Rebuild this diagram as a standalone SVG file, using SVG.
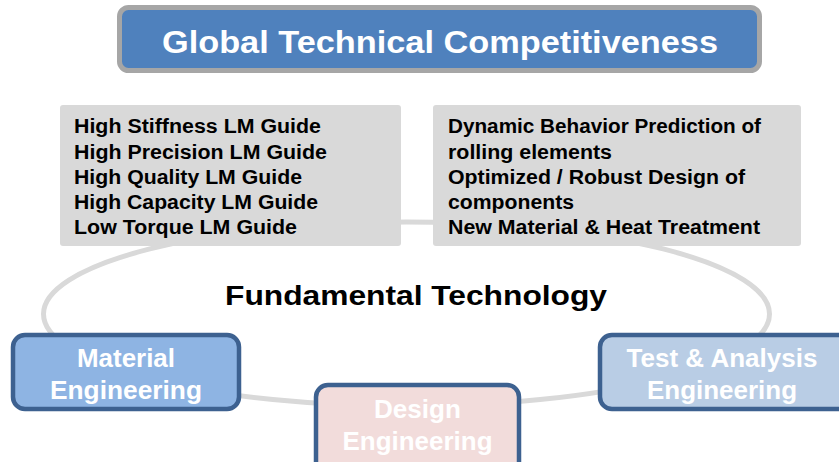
<svg xmlns="http://www.w3.org/2000/svg" width="839" height="462" viewBox="0 0 839 462">
  <style>
    .bold { font-family: "Liberation Sans", Arial, sans-serif; font-weight: bold; }
    .list { font-size: 19.5px; fill: #000; }
    .panel { fill: #d9d9d9; }
    .tech { stroke: #3d6190; stroke-width: 4.5; }
    .techLabel { font-size: 25px; fill: #fff; text-anchor: middle; }
  </style>

  <!-- ring of fundamental technology -->
  <g id="connectors">
    <ellipse cx="406.5" cy="314" rx="363" ry="92" fill="none" stroke="#d9d9d9" stroke-width="5"/>
  </g>

  <g id="global">
    <rect x="119.5" y="7.5" width="640" height="63" rx="9" fill="#4f81bd" stroke="#a6a6a6" stroke-width="5"/>
    <text class="bold" x="440" y="53" font-size="32" fill="#fff" text-anchor="middle" textLength="556" lengthAdjust="spacingAndGlyphs">Global Technical Competitiveness</text>
  </g>

  <g id="products">
    <rect class="panel" x="60" y="105" width="341" height="141" rx="3"/>
    <text class="bold list" x="74" y="133" textLength="247" lengthAdjust="spacingAndGlyphs">High Stiffness LM Guide</text>
    <text class="bold list" x="74" y="158.5" textLength="253" lengthAdjust="spacingAndGlyphs">High Precision LM Guide</text>
    <text class="bold list" x="74" y="183.5" textLength="228" lengthAdjust="spacingAndGlyphs">High Quality LM Guide</text>
    <text class="bold list" x="74" y="208.5" textLength="244" lengthAdjust="spacingAndGlyphs">High Capacity LM Guide</text>
    <text class="bold list" x="74" y="234" textLength="223" lengthAdjust="spacingAndGlyphs">Low Torque LM Guide</text>
  </g>

  <g id="research">
    <rect class="panel" x="433" y="105" width="368" height="141" rx="3"/>
    <text class="bold list" x="448" y="133" textLength="313" lengthAdjust="spacingAndGlyphs">Dynamic Behavior Prediction of</text>
    <text class="bold list" x="448" y="158.5" textLength="164" lengthAdjust="spacingAndGlyphs">rolling elements</text>
    <text class="bold list" x="448" y="183.5" textLength="297" lengthAdjust="spacingAndGlyphs">Optimized / Robust Design of</text>
    <text class="bold list" x="448" y="208.5" textLength="126" lengthAdjust="spacingAndGlyphs">components</text>
    <text class="bold list" x="448" y="234" textLength="312" lengthAdjust="spacingAndGlyphs">New Material &amp; Heat Treatment</text>
  </g>

  <g id="fundamental">
    <text class="bold" x="416" y="305" font-size="27" fill="#000" text-anchor="middle" textLength="382" lengthAdjust="spacingAndGlyphs">Fundamental Technology</text>
  </g>

  <g id="material">
    <rect class="tech" x="13" y="335" width="226" height="74" rx="12" fill="#8eb4e3"/>
    <text class="bold techLabel" x="126" y="367" textLength="98" lengthAdjust="spacingAndGlyphs">Material</text>
    <text class="bold techLabel" x="126" y="399" textLength="152" lengthAdjust="spacingAndGlyphs">Engineering</text>
  </g>

  <g id="design">
    <rect class="tech" x="316" y="385" width="203" height="90" rx="12" fill="#f2dcdb"/>
    <text class="bold techLabel" x="417.5" y="418" textLength="87" lengthAdjust="spacingAndGlyphs">Design</text>
    <text class="bold techLabel" x="417.5" y="450" textLength="150" lengthAdjust="spacingAndGlyphs">Engineering</text>
  </g>

  <g id="test">
    <rect class="tech" x="600" y="335" width="250" height="74" rx="12" fill="#b9cde5"/>
    <text class="bold techLabel" x="722" y="367" textLength="191" lengthAdjust="spacingAndGlyphs">Test &amp; Analysis</text>
    <text class="bold techLabel" x="722" y="399" textLength="150" lengthAdjust="spacingAndGlyphs">Engineering</text>
  </g>
</svg>
